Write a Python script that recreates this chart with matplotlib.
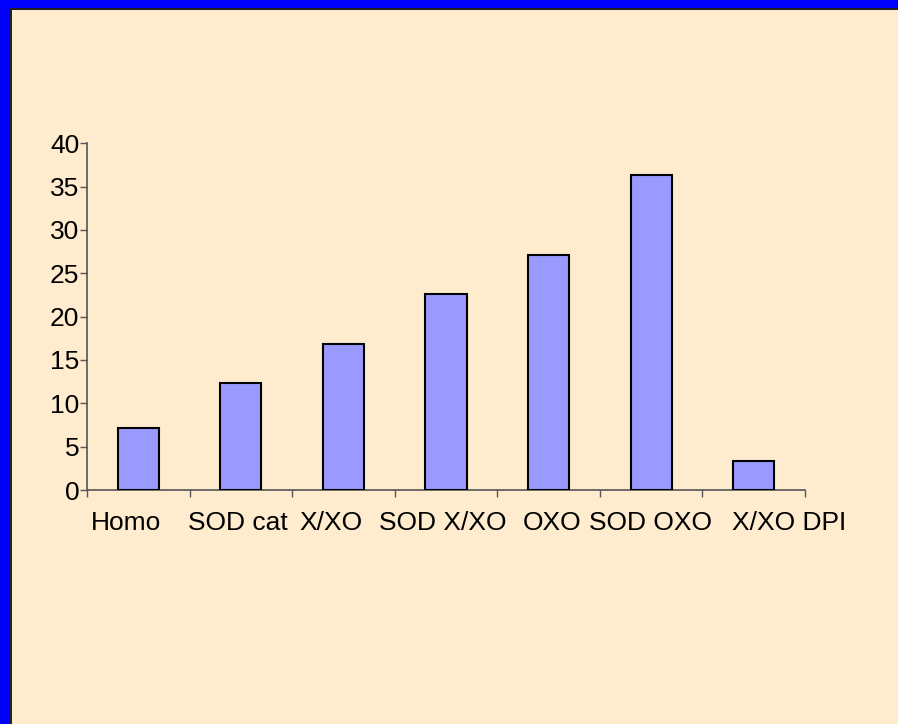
import matplotlib
matplotlib.use("Agg")
import matplotlib.pyplot as plt
from matplotlib.patches import Rectangle

plt.rcParams["font.family"] = ["Liberation Sans", "DejaVu Sans"]

categories = ["Homo", "SOD cat", "X/XO", "SOD X/XO", "OXO", "SOD OXO", "X/XO DPI"]
values = [7.2, 12.4, 16.9, 22.6, 27.1, 36.4, 3.4]
y_ticks = [0, 5, 10, 15, 20, 25, 30, 35, 40]
# horizontal nudges (pixels) for the category labels
label_shift = [-12, -3, -12, -3, 3, -1, 35]

W, H = 898, 724
bg = "#FFEBCD"
bar_color = "#9999FF"
ax_left, ax_right = 87, 805

fig = plt.figure(figsize=(W / 100, H / 100), dpi=100, facecolor=bg)

# blue frame on top and left with a dark inner edge
fig.patches.append(Rectangle((0, 1 - 10 / H), 1, 10 / H, transform=fig.transFigure,
                             facecolor="#222222", edgecolor="none"))
fig.patches.append(Rectangle((0, 0), 12 / W, 1, transform=fig.transFigure,
                             facecolor="#222222", edgecolor="none"))
fig.patches.append(Rectangle((0, 1 - 8 / H), 1, 8 / H, transform=fig.transFigure,
                             facecolor="#0000FF", edgecolor="none"))
fig.patches.append(Rectangle((0, 0), 10 / W, 1, transform=fig.transFigure,
                             facecolor="#0000FF", edgecolor="none"))

ax = fig.add_axes([ax_left / W, (H - 490) / H, (ax_right - ax_left) / W, (490 - 143.3) / H])
ax.set_facecolor("none")

x = list(range(len(categories)))
ax.bar(x, values, width=0.4, color=bar_color, edgecolor="black", linewidth=1.5, zorder=3)

ax.set_xlim(-0.5, len(categories) - 0.5)
ax.set_ylim(0, 40)

ax.set_yticks(y_ticks)
ax.set_yticklabels([str(t) for t in y_ticks], fontsize=19)
ax.set_xticks([i - 0.5 for i in range(len(categories) + 1)])
ax.set_xticklabels([])

# category labels sit on minor ticks, nudged sideways
px_per_cat = (ax_right - ax_left) / len(categories)
ax.set_xticks([i + s / px_per_cat for i, s in zip(x, label_shift)], minor=True)
ax.set_xticklabels(categories, minor=True, fontsize=19)

ax.tick_params(axis="y", direction="out", length=5, width=1, color="#555555", pad=0.5)
ax.tick_params(axis="x", which="major", direction="out", length=5, width=1, color="#555555")
ax.tick_params(axis="x", which="minor", length=0, pad=15)

for side in ("top", "right"):
    ax.spines[side].set_visible(False)
for side in ("left", "bottom"):
    ax.spines[side].set_color("#555555")
    ax.spines[side].set_linewidth(1.2)

fig.savefig("out.png", dpi=100, facecolor=bg)
